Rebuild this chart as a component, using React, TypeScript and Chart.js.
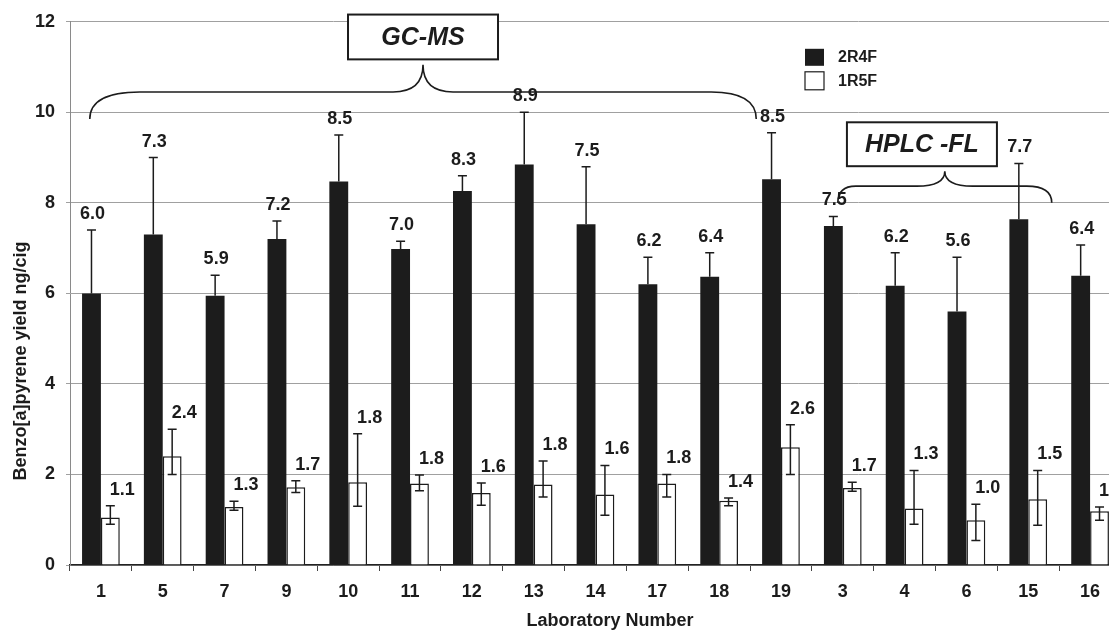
import React, { useEffect, useRef } from 'react';
import { Chart, registerables } from 'chart.js';

Chart.register(...registerables);

const labs = ['1', '5', '7', '9', '10', '11', '12', '13', '14', '17', '18', '19', '3', '4', '6', '15', '16'];
const values2R4F = [6.0, 7.3, 5.95, 7.2, 8.47, 6.98, 8.26, 8.85, 7.53, 6.2, 6.37, 8.52, 7.49, 6.17, 5.6, 7.64, 6.39];
const labels2R4F = ['6.0', '7.3', '5.9', '7.2', '8.5', '7.0', '8.3', '8.9', '7.5', '6.2', '6.4', '8.5', '7.5', '6.2', '5.6', '7.7', '6.4'];
const errHigh2R4F = [7.4, 9.0, 6.4, 7.6, 9.5, 7.15, 8.6, 10.0, 8.8, 6.8, 6.9, 9.55, 7.7, 6.9, 6.8, 8.87, 7.07];
const values1R5F = [1.05, 2.4, 1.28, 1.72, 1.83, 1.8, 1.59, 1.78, 1.56, 1.8, 1.42, 2.6, 1.7, 1.25, 0.99, 1.45, 1.19];
const labels1R5F = ['1.1', '2.4', '1.3', '1.7', '1.8', '1.8', '1.6', '1.8', '1.6', '1.8', '1.4', '2.6', '1.7', '1.3', '1.0', '1.5', '1.2'];
const errHigh1R5F = [1.31, 3.0, 1.41, 1.86, 2.9, 1.99, 1.81, 2.3, 2.2, 2.0, 1.48, 3.1, 1.83, 2.09, 1.34, 2.09, 1.28];
const errLow1R5F = [0.9, 2.0, 1.21, 1.6, 1.3, 1.64, 1.32, 1.5, 1.1, 1.5, 1.31, 2.0, 1.63, 0.9, 0.54, 0.88, 0.99];
const yTicks = [0, 2, 4, 6, 8, 10, 12];

const FONT = '"Liberation Sans", Arial, Helvetica, sans-serif';
const INK = '#1c1c1c';

function drawBrace(ctx: CanvasRenderingContext2D, x0: number, x1: number, yEnd: number, yH: number, yPeak: number, rL: number, rR: number, rP: number) {
  const xp = (x0 + x1) / 2;
  ctx.beginPath();
  ctx.moveTo(x0, yEnd);
  ctx.quadraticCurveTo(x0, yH, x0 + rL, yH);
  ctx.lineTo(xp - rP, yH);
  ctx.quadraticCurveTo(xp, yH, xp, yPeak);
  ctx.quadraticCurveTo(xp, yH, xp + rP, yH);
  ctx.lineTo(x1 - rR, yH);
  ctx.quadraticCurveTo(x1, yH, x1, yEnd);
  ctx.stroke();
}

function drawBox(ctx: CanvasRenderingContext2D, cx: number, top: number, bottom: number, w: number, text: string) {
  ctx.fillStyle = '#fff';
  ctx.fillRect(cx - w / 2, top, w, bottom - top);
  ctx.lineWidth = 2;
  ctx.strokeStyle = INK;
  ctx.strokeRect(cx - w / 2, top, w, bottom - top);
  ctx.fillStyle = INK;
  ctx.font = `italic bold 25px ${FONT}`;
  ctx.textAlign = 'center';
  ctx.textBaseline = 'middle';
  ctx.fillText(text, cx, (top + bottom) / 2 + 1);
}

const overlayPlugin = {
  id: 'overlay',
  afterDatasetsDraw(chart: any) {
    const ctx: CanvasRenderingContext2D = chart.ctx;
    const y = chart.scales.y;
    const m0 = chart.getDatasetMeta(0);
    const m1 = chart.getDatasetMeta(1);
    ctx.save();
    ctx.strokeStyle = INK;
    ctx.lineWidth = 1.5;
    const cap = 4.5;
    m0.data.forEach((bar: any, i: number) => {
      const top = y.getPixelForValue(errHigh2R4F[i]);
      ctx.beginPath();
      ctx.moveTo(bar.x, bar.y);
      ctx.lineTo(bar.x, top);
      ctx.moveTo(bar.x - cap, top);
      ctx.lineTo(bar.x + cap, top);
      ctx.stroke();
    });
    m1.data.forEach((bar: any, i: number) => {
      const top = y.getPixelForValue(errHigh1R5F[i]);
      const bot = y.getPixelForValue(errLow1R5F[i]);
      ctx.beginPath();
      ctx.moveTo(bar.x, bot);
      ctx.lineTo(bar.x, top);
      ctx.moveTo(bar.x - cap, top);
      ctx.lineTo(bar.x + cap, top);
      ctx.moveTo(bar.x - cap, bot);
      ctx.lineTo(bar.x + cap, bot);
      ctx.stroke();
    });
    ctx.restore();
  },
  afterDraw(chart: any) {
    const ctx: CanvasRenderingContext2D = chart.ctx;
    const x = chart.scales.x;
    const y = chart.scales.y;
    const area = chart.chartArea;
    const cw = x.getPixelForValue(1) - x.getPixelForValue(0);
    ctx.save();
    ctx.strokeStyle = INK;
    ctx.lineWidth = 1.6;
    // GC-MS brace
    const g0 = x.getPixelForValue(0) - 0.18 * cw;
    const g1 = x.getPixelForValue(11) - 0.4 * cw;
    drawBrace(ctx, g0, g1, y.getPixelForValue(9.85), y.getPixelForValue(10.45), y.getPixelForValue(11.05), 50, 45, 30);
    drawBox(ctx, (g0 + g1) / 2, y.getPixelForValue(12.16), y.getPixelForValue(11.17), 150, 'GC-MS');
    // HPLC-FL brace
    ctx.strokeStyle = INK;
    ctx.lineWidth = 1.6;
    const h0 = x.getPixelForValue(12) - 0.08 * cw;
    const h1 = x.getPixelForValue(15) + 0.38 * cw;
    drawBrace(ctx, h0, h1, y.getPixelForValue(8.0), y.getPixelForValue(8.37), y.getPixelForValue(8.7), 18, 25, 28);
    drawBox(ctx, (h0 + h1) / 2 - 0.37 * cw, y.getPixelForValue(9.78), y.getPixelForValue(8.81), 150, 'HPLC -FL');

    // value labels
    const m0 = chart.getDatasetMeta(0);
    const m1 = chart.getDatasetMeta(1);
    ctx.fillStyle = INK;
    ctx.font = `bold 18px ${FONT}`;
    ctx.textAlign = 'center';
    ctx.textBaseline = 'bottom';
    m0.data.forEach((bar: any, i: number) => {
      ctx.fillText(labels2R4F[i], bar.x + 1, y.getPixelForValue(errHigh2R4F[i]) - 7);
    });
    m1.data.forEach((bar: any, i: number) => {
      ctx.fillText(labels1R5F[i], bar.x + 12, y.getPixelForValue(errHigh1R5F[i]) - 7);
    });

    // legend
    const lx = area.left + 735;
    const ly = area.top + 27;
    ctx.fillStyle = INK;
    ctx.fillRect(lx, ly, 19, 17);
    ctx.fillStyle = '#fff';
    ctx.fillRect(lx, ly + 23, 19, 18);
    ctx.lineWidth = 1.2;
    ctx.strokeStyle = INK;
    ctx.strokeRect(lx, ly + 23, 19, 18);
    ctx.fillStyle = INK;
    ctx.font = `bold 16px ${FONT}`;
    ctx.textAlign = 'left';
    ctx.textBaseline = 'middle';
    ctx.fillText('2R4F', lx + 33, ly + 9);
    ctx.fillText('1R5F', lx + 33, ly + 33);

    // axis titles
    ctx.font = `bold 18px ${FONT}`;
    ctx.textAlign = 'center';
    ctx.textBaseline = 'middle';
    ctx.fillText('Laboratory Number', area.left + 540, 621);
    ctx.translate(21, 361);
    ctx.rotate(-Math.PI / 2);
    ctx.fillText('Benzo[a]pyrene yield ng/cig', 0, 0);
    ctx.restore();
  },
};

export default function App() {
  const ref = useRef<HTMLCanvasElement | null>(null);
  useEffect(() => {
    if (!ref.current) return;
    const chart = new Chart(ref.current, {
      type: 'bar',
      data: {
        labels: labs,
        datasets: [
          {
            label: '2R4F',
            data: values2R4F,
            backgroundColor: INK,
            borderWidth: 0,
            categoryPercentage: 0.61,
            barPercentage: 1.0,
          },
          {
            label: '1R5F',
            data: values1R5F,
            backgroundColor: '#ffffff',
            borderColor: INK,
            borderWidth: 1.5,
            categoryPercentage: 0.61,
            barPercentage: 1.0,
          },
        ],
      },
      options: {
        responsive: false,
        animation: false,
        devicePixelRatio: 1,
        layout: { padding: { top: 20, left: 0, right: 4, bottom: 0 } },
        plugins: { legend: { display: false }, tooltip: { enabled: false } },
        scales: {
          x: {
            grid: { display: true, drawOnChartArea: false, drawTicks: true, tickLength: 6, color: '#444', offset: true },
            border: { display: true, color: '#222', width: 1.5 },
            ticks: { color: INK, font: { family: FONT, size: 18, weight: 'bold' }, padding: 10, maxRotation: 0, autoSkip: false },
            afterFit: (s: any) => { s.height = 65; },
          },
          y: {
            min: 0,
            max: 12,
            afterBuildTicks: (s: any) => { s.ticks = yTicks.map((v) => ({ value: v })); },
            grid: { color: '#a0a0a0', lineWidth: 1, tickLength: 4 },
            border: { display: true, color: '#8a8a8a', width: 1 },
            ticks: { color: INK, font: { family: FONT, size: 18, weight: 'bold' }, padding: 11 },
            afterFit: (s: any) => { s.width = 70; },
          },
        },
      },
      plugins: [overlayPlugin],
    });
    return () => chart.destroy();
  }, []);
  return (
    <div style={{ position: 'fixed', left: 0, top: 0, width: 1109, height: 630, overflow: 'hidden', background: '#fff' }}>
      <canvas ref={ref} width={1125} height={630} style={{ display: 'block', width: 1125, height: 630 }} />
    </div>
  );
}
